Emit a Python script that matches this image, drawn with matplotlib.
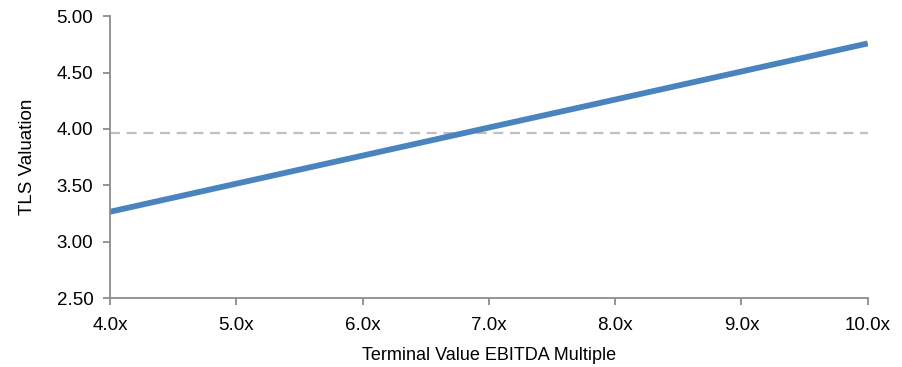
import matplotlib
matplotlib.use("Agg")
import matplotlib.pyplot as plt
from matplotlib import font_manager

names = {f.name for f in font_manager.fontManager.ttflist}
fam = ['Liberation Sans Narrow', 'Liberation Sans', 'DejaVu Sans']
fam = [f for f in fam if f in names] or ['DejaVu Sans']
plt.rcParams['font.family'] = fam

multiples = [4.0, 5.0, 6.0, 7.0, 8.0, 9.0, 10.0]
valuation = [3.265, 3.514, 3.763, 4.012, 4.260, 4.509, 4.758]
reference_value = 3.965
x_ticks = [4.0, 5.0, 6.0, 7.0, 8.0, 9.0, 10.0]
y_ticks = [2.50, 3.00, 3.50, 4.00, 4.50, 5.00]

fig = plt.figure(figsize=(9.02, 3.67), dpi=100)
ax = fig.add_axes([0.122, 0.188, 0.840, 0.768])

ax.axhline(reference_value, color='#BFBFBF', lw=1.6, ls=(0, (4.5, 3)), zorder=1)
ax.plot(multiples, valuation, color='#4A84BE', lw=4.2, solid_capstyle='butt', zorder=2)

ax.set_xlim(4.0, 10.0)
ax.set_ylim(2.5, 5.0)
ax.set_xticks(x_ticks)
ax.set_xticklabels([f"{v:.1f}x" for v in x_ticks])
ax.set_yticks(y_ticks)
ax.set_yticklabels([f"{v:.2f}" for v in y_ticks])

for s in ['top', 'right']:
    ax.spines[s].set_visible(False)
for s in ['left', 'bottom']:
    ax.spines[s].set_color('#8C8C8C')
    ax.spines[s].set_linewidth(1.3)
ax.tick_params(axis='both', colors='#8C8C8C', length=5, width=1.3, labelsize=13.5, labelcolor='black')
ax.tick_params(axis='y', pad=7)
ax.tick_params(axis='x', pad=9)

ax.set_xlabel('Terminal Value EBITDA Multiple', fontsize=13, labelpad=9)
ax.set_ylabel('TLS Valuation', fontsize=13.5, labelpad=15)

fig.savefig('out.png', dpi=100)
